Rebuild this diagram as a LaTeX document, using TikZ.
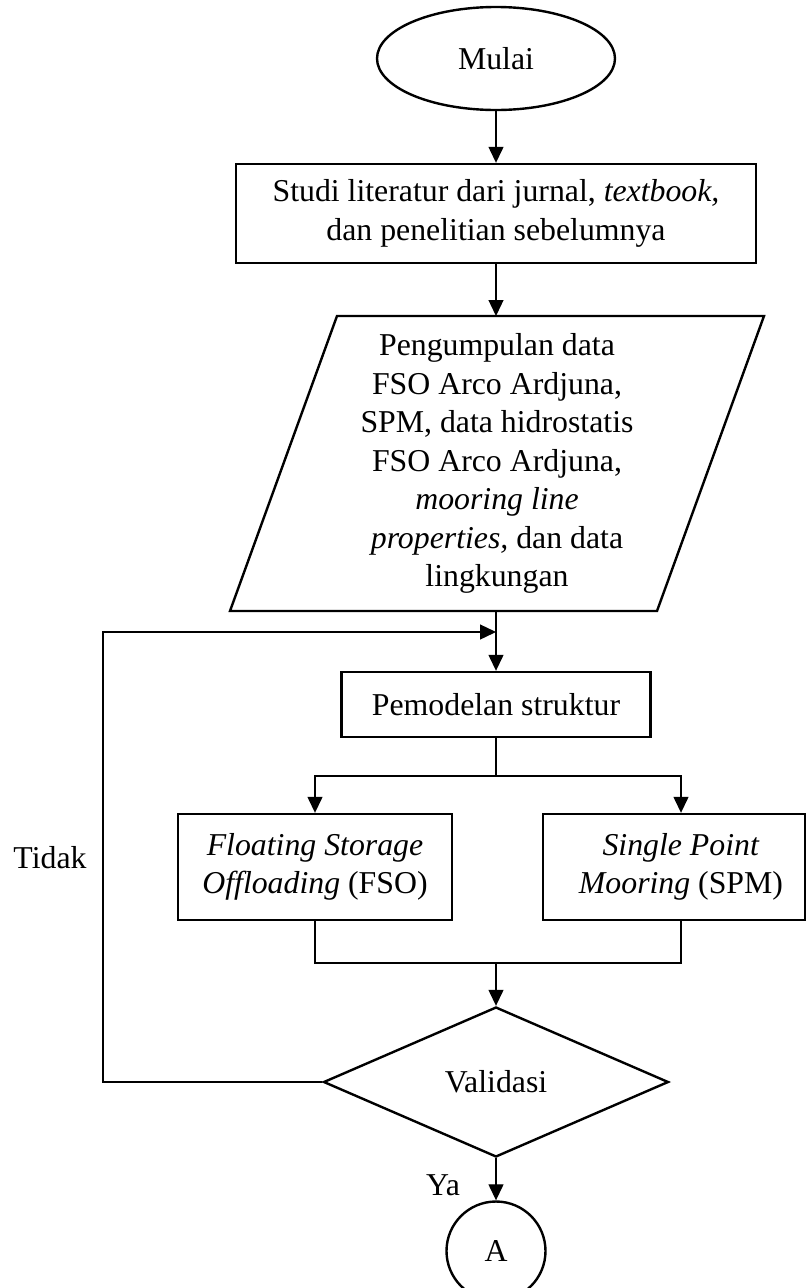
\documentclass[tikz,border=0pt]{standalone}
\usepackage{fontspec}
\setmainfont{Liberation Serif}
\usetikzlibrary{shapes.geometric,arrows.meta}
\begin{document}
\begin{tikzpicture}[x=1pt,y=-1pt,
  every node/.style={font=\fontsize{31.8}{38.5}\selectfont},
  boxnode/.style={draw, line width=2.4pt, rectangle, inner sep=0pt, align=center},
  shapeline/.style={draw, line width=2.4pt, inner sep=0pt},
  conn/.style={line width=1.3pt},
  arr/.style={conn, -{Triangle[length=16pt,width=15pt]}},
]
\useasboundingbox (0,0) rectangle (807,1288);
\clip (0,0) rectangle (807,1288);

% nodes
\node[shapeline, ellipse, minimum width=238pt, minimum height=103pt] (mulai) at (496,58.5) {Mulai};
\node[boxnode, minimum width=520pt, minimum height=99pt] (studi) at (496,213.5)
  {Studi literatur dari jurnal, \textit{textbook,}\\dan penelitian sebelumnya};

\coordinate (ptl) at (337,316);
\coordinate (ptr) at (764,316);
\coordinate (pbr) at (657,611);
\coordinate (pbl) at (230,611);
\draw[line width=2.4pt, line join=miter] (ptl) -- (ptr) -- (pbr) -- (pbl) -- cycle;
\node[align=center, inner sep=0pt] (data) at (497,463.5)
  {Pengumpulan data\\FSO Arco Ardjuna,\\SPM, data hidrostatis\\FSO Arco Ardjuna,\\\textit{mooring line}\\\textit{properties,} dan data\\lingkungan};
\coordinate (ptop) at (496,316);
\coordinate (pbot) at (496,611);

\node[boxnode, minimum width=309pt, minimum height=65pt] (model) at (496,704.5) {Pemodelan struktur};
\node[boxnode, minimum width=274pt, minimum height=106pt] (fso) at (315,867)
  {\textit{Floating Storage}\\\textit{Offloading} (FSO)};
\node[boxnode, minimum width=262pt, minimum height=106pt] (spm) at (674,867)
  {\hspace*{14pt}\textit{Single Point}\\\hspace*{14pt}\textit{Mooring} (SPM)};

\node[shapeline, diamond, minimum width=345pt, minimum height=150pt] (valid) at (496,1082) {Validasi};
\node[shapeline, circle, minimum size=99pt] (a) at (496,1251) {A};

\node (tidak) at (50,858) {Tidak};
\node (ya) at (443,1185) {Ya};

% connectors
\draw[arr] (mulai.south) -- (studi.north);
\draw[arr] (studi.south) -- (ptop);
\draw[arr] (pbot) -- (model.north);

\coordinate (lb) at (103,1082);
\coordinate (lt) at (103,632);
\coordinate (lj) at (496,632);
\draw[arr] (valid.west) -- (lb) -- (lt) -- (lj);

\coordinate (br) at (496,776);
\coordinate (brl) at (315,776);
\coordinate (brr) at (681,776);
\draw[conn] (model.south) -- (br);
\draw[arr] (br) -- (brl) -- (fso.north);
\draw[arr] (br) -- (brr) -- (brr |- spm.north);

\coordinate (ml) at (315,963);
\coordinate (mr) at (681,963);
\coordinate (mc) at (496,963);
\draw[conn] (fso.south) -- (ml) -- (mr) -- (brr |- spm.south);
\draw[arr] (mc) -- (valid.north);
\draw[arr] (valid.south) -- (a.north);
\end{tikzpicture}
\end{document}
